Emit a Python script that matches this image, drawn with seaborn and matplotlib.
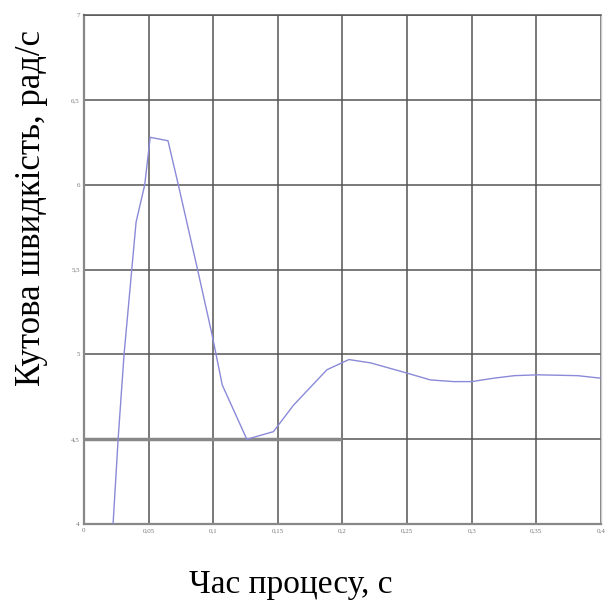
import matplotlib
matplotlib.use("Agg")
import matplotlib.pyplot as plt
import seaborn as sns
import pandas as pd
from matplotlib.ticker import FuncFormatter

sns.set_theme(style="white")
plt.rcParams['font.family'] = ['Liberation Serif', 'DejaVu Serif']

# Data
time_s = [0.021, 0.0225, 0.0264, 0.031, 0.0403, 0.047, 0.0512, 0.065, 0.073,
          0.0876, 0.099, 0.107, 0.126, 0.1466, 0.162, 0.188, 0.205, 0.222,
          0.25, 0.268, 0.286, 0.30, 0.317, 0.333, 0.351, 0.382, 0.40]
speed = [3.90, 4.00, 4.50, 5.00, 5.78, 6.00, 6.28, 6.26, 6.00,
         5.51, 5.12, 4.82, 4.50, 4.545, 4.70, 4.91, 4.97, 4.95,
         4.89, 4.85, 4.84, 4.84, 4.86, 4.875, 4.88, 4.875, 4.86]
x_ticks = [0, 0.05, 0.1, 0.15, 0.2, 0.25, 0.3, 0.35, 0.4]
y_ticks = [4, 4.5, 5, 5.5, 6, 6.5, 7]
x_label = "Час процесу, с"
y_label = "Кутова швидкість, рад/с"

df = pd.DataFrame({"t": time_s, "w": speed})

fig = plt.figure(figsize=(6.06, 6.08), dpi=100)
ax = fig.add_axes([0.1386, 0.138, 0.853, 0.837])

sns.lineplot(data=df, x="t", y="w", ax=ax, color="#8a8ad8", linewidth=1.0,
             sort=False, zorder=3)

ax.set_xlim(0, 0.4)
ax.set_ylim(4, 7)
ax.set_xticks(x_ticks)
ax.set_yticks(y_ticks)

def fmt(v, pos):
    s = f"{v:g}"
    return s.replace(".", ",")

ax.xaxis.set_major_formatter(FuncFormatter(fmt))
ax.yaxis.set_major_formatter(FuncFormatter(fmt))
ax.tick_params(axis="both", labelsize=5, labelcolor="#777777", length=0, pad=3)

ax.grid(True, color="#555555", linewidth=1.1)
ax.set_axisbelow(True)
# thicker grid segment at 4.5 in left half
ax.hlines(y_ticks[1], x_ticks[0], x_ticks[4], color="#888888", linewidth=2.5, zorder=2)

for side in ["left", "bottom"]:
    ax.spines[side].set_color("#888888")
    ax.spines[side].set_linewidth(1.6)
ax.spines["top"].set_color("#555555")
ax.spines["top"].set_linewidth(1.1)
ax.spines["right"].set_color("#cccccc")
ax.spines["right"].set_linewidth(1.0)

ax.set_xlabel("")
ax.set_ylabel("")
fig.text(0.479, 0.038, x_label, ha="center", va="center", fontsize=24, color="black")
fig.text(0.052, 0.658, y_label, ha="center", va="center", rotation=90, fontsize=25, color="black")

fig.savefig("out.png", dpi=100)
